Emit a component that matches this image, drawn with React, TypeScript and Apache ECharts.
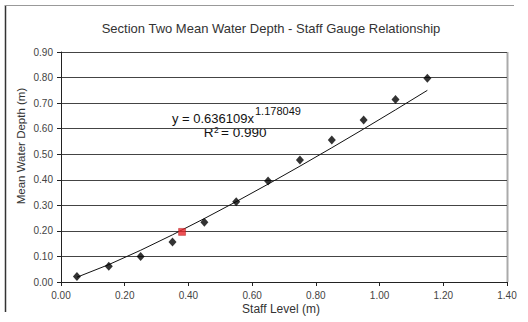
import React, { useEffect, useRef } from "react";
import * as echarts from "echarts";

const title = "Section Two Mean Water Depth - Staff Gauge Relationship";
const xAxisName = "Staff Level (m)";
const yAxisName = "Mean Water Depth (m)";

const staffLevel = [0.05, 0.15, 0.25, 0.35, 0.45, 0.55, 0.65, 0.75, 0.85, 0.95, 1.05, 1.15];
const meanDepth = [0.022, 0.062, 0.1, 0.157, 0.234, 0.314, 0.395, 0.477, 0.556, 0.634, 0.714, 0.797];

const highlightLevel = [0.38];
const highlightDepth = [0.196];

// trendline y = 0.636109 x^1.178049, values taken at the staff levels
const trendLevel = [0.05, 0.15, 0.25, 0.35, 0.45, 0.55, 0.65, 0.75, 0.85, 0.95, 1.05, 1.15];
const trendDepth = [0.0187, 0.0681, 0.1242, 0.1847, 0.2483, 0.3145, 0.3829, 0.4533, 0.5253, 0.5988, 0.6737, 0.75];

const FONT = "Liberation Sans, Arial, sans-serif";

export default function App() {
  const ref = useRef<HTMLDivElement>(null);
  useEffect(() => {
    if (!ref.current) return;
    const chart = echarts.init(ref.current, null, { renderer: "svg" });
    const txt = (x: number, y: number, text: string, size: number, align: string) => ({
      type: "text",
      x,
      y,
      style: { text, fontFamily: FONT, fontSize: size, fill: "#111", align, verticalAlign: "middle" },
    });
    chart.setOption({
      animation: false,
      backgroundColor: "#ffffff",
      title: {
        text: title,
        left: 266,
        top: 17,
        textAlign: "center",
        textStyle: { fontFamily: FONT, fontSize: 13, fontWeight: "normal", color: "#333" },
      },
      grid: { left: 61, right: 21, top: 52, bottom: 40 },
      xAxis: {
        type: "value",
        min: 0,
        max: 1.4,
        interval: 0.2,
        axisLine: { show: true, lineStyle: { color: "#222", width: 1 } },
        axisTick: { show: true, length: 4, lineStyle: { color: "#222" } },
        splitLine: { show: false },
        axisLabel: {
          formatter: (v: number) => v.toFixed(2),
          fontFamily: FONT,
          fontSize: 10,
          color: "#444",
          margin: 8,
        },
      },
      yAxis: {
        type: "value",
        min: 0,
        max: 0.9,
        interval: 0.1,
        axisLine: { show: true, lineStyle: { color: "#222", width: 1 } },
        axisTick: { show: true, length: 4, lineStyle: { color: "#222" } },
        splitLine: { show: true, lineStyle: { color: "#444", width: 1 } },
        axisLabel: {
          formatter: (v: number) => v.toFixed(2),
          fontFamily: FONT,
          fontSize: 10,
          color: "#444",
          margin: 8,
        },
      },
      graphic: [
        { type: "line", shape: { x1: 5.5, y1: 5, x2: 5.5, y2: 312 }, style: { stroke: "#333", lineWidth: 1.5 } },
        { type: "line", shape: { x1: 5, y1: 5.5, x2: 514, y2: 5.5 }, style: { stroke: "#999", lineWidth: 1 } },
        { type: "line", shape: { x1: 507.5, y1: 52, x2: 507.5, y2: 282 }, style: { stroke: "#aaa", lineWidth: 2 } },
        {
          type: "text",
          x: 21,
          y: 146,
          rotation: Math.PI / 2,
          style: { text: yAxisName, fontFamily: FONT, fontSize: 11.5, fill: "#333", align: "center", verticalAlign: "middle" },
        },
        {
          type: "text",
          x: 281,
          y: 309,
          style: { text: xAxisName, fontFamily: FONT, fontSize: 12, fill: "#333", align: "center", verticalAlign: "middle" },
        },
        txt(254, 118, "y = 0.636109x", 13, "right"),
        txt(255, 110.5, "1.178049", 11, "left"),
        txt(213.5, 132.5, "R", 13.5, "right"),
        txt(214, 129.5, "2", 8.5, "left"),
        txt(221, 132.5, "= 0.990", 13.5, "left"),
      ],
      series: [
        {
          type: "line",
          data: trendLevel.map((x, i) => [x, trendDepth[i]]),
          showSymbol: false,
          symbol: "none",
          lineStyle: { color: "#111", width: 1 },
          z: 2,
        },
        {
          type: "scatter",
          data: staffLevel.map((x, i) => [x, meanDepth[i]]),
          symbol: "diamond",
          symbolSize: [8, 9],
          itemStyle: { color: "#000" },
          z: 3,
        },
        {
          type: "scatter",
          data: highlightLevel.map((x, i) => [x, highlightDepth[i]]),
          symbol: "rect",
          symbolSize: 7,
          itemStyle: { color: "#e8262a", borderColor: "#b01010", borderWidth: 0.5 },
          z: 4,
        },
      ],
    });
    return () => chart.dispose();
  }, []);
  return <div ref={ref} style={{ width: 528, height: 322, position: "absolute", left: 0, top: 0 }} />;
}
